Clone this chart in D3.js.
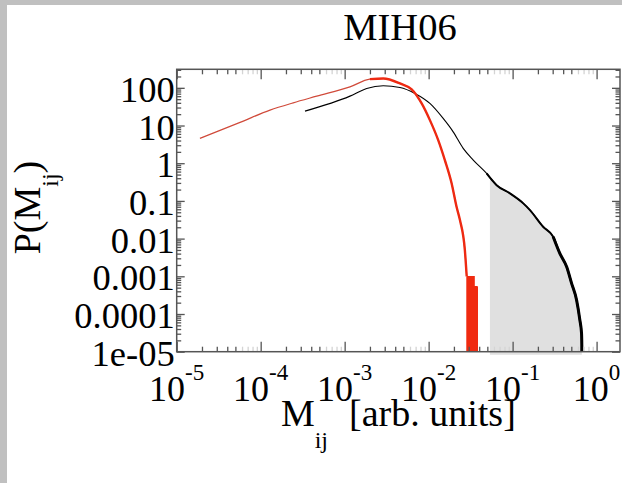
<!DOCTYPE html>
<html><head><meta charset="utf-8">
<script src="https://cdn.jsdelivr.net/npm/d3@7"></script>
<style>html,body{margin:0;padding:0;background:#c0c0c0;} svg{display:block} svg text{font-family:"Liberation Serif","Times New Roman","DejaVu Serif",serif;}</style>
</head><body><svg id="c" width="622" height="483"></svg>
<script>
// ---- data ----
const title = "MIH06";
const xTickValues = [1e-5, 1e-4, 1e-3, 1e-2, 1e-1, 1];
const xTickExponents = ["-5", "-4", "-3", "-2", "-1", "0"];
const yTickValues = [1e-5, 1e-4, 1e-3, 1e-2, 1e-1, 1, 10, 100];
const yTickLabels = ["1e-05", "0.0001", "0.001", "0.01", "0.1", "1", "10", "100"];

const blackX = [3.37e-4, 1.156e-3, 1.83e-3, 2.88e-3, 4.55e-3, 6.87e-3, 1.035e-2, 1.49e-2, 1.96e-2, 2.58e-2, 3.40e-2, 4.9e-2, 6.45e-2, 9.3e-2, 0.134, 0.161, 0.231, 0.304, 0.365, 0.44, 0.504, 0.578, 0.632, 0.662, 0.667, 0.668];
const blackY = [24.1, 60.2, 96.4, 113, 102, 71, 38.5, 15.4, 6.8, 2.47, 1.21, 0.536, 0.262, 0.158, 0.086, 0.057, 0.0206, 0.0112, 4.05e-3, 1.79e-3, 6.5e-4, 2.34e-4, 6.9e-5, 3.05e-5, 1.5e-5, 1e-7];

const redX = [1.89e-5, 5.68e-5, 1.29e-4, 2.44e-4, 4.65e-4, 1.156e-3, 2.0e-3, 2.88e-3, 4.55e-3, 6.28e-3, 8.26e-3, 1.035e-2, 1.30e-2, 1.56e-2, 1.88e-2, 2.15e-2, 2.36e-2, 2.70e-2, 2.84e-2];
const redY = [4.55, 12.1, 25.6, 40, 60, 106, 170, 177, 131, 90.7, 38.5, 13.9, 4.1, 1.21, 0.291, 0.0698, 0.031, 4.95e-3, 1.0e-3];

const redTailX = [0.0284, 0.0287, 0.0290, 0.0293, 0.0296, 0.0299, 0.0302, 0.0305, 0.0308, 0.0311, 0.0314, 0.0317, 0.0320, 0.0323, 0.0326, 0.0329, 0.0332, 0.0335, 0.0338, 0.0341, 0.0344, 0.0347, 0.0351, 0.0355, 0.0359, 0.0363, 0.0367, 0.0371, 0.0375, 0.0379];
const redTailY = [9.7e-4, 1e-7, 9.7e-4, 1e-7, 9.7e-4, 1e-7, 9.7e-4, 1e-7, 9.7e-4, 1e-7, 9.7e-4, 1e-7, 9.7e-4, 1e-7, 9.7e-4, 1e-7, 9.7e-4, 1e-7, 9.7e-4, 1e-7, 9.7e-4, 5.3e-4, 1e-7, 5.3e-4, 1e-7, 5.3e-4, 1e-7, 5.3e-4, 1e-7, 5.3e-4];

const shadeStartX = 0.0537;

// ---- layout ----
const L = 176.7, R = 620, T = 69.3, B = 351.7;
const svg = d3.select("#c");
const serif = "Liberation Serif, Times New Roman, DejaVu Serif, serif";
const axisColor = "#555";

svg.append("rect").attr("x", 7).attr("y", 5).attr("width", 615).attr("height", 478).attr("fill", "#fff");

const x = d3.scaleLog().domain([1e-5, 1.9]).range([L, R]);
const y = d3.scaleLog().domain([1e-5, 310]).range([B, T]);

svg.append("defs").append("clipPath").attr("id", "clip")
  .append("rect").attr("x", L).attr("y", T).attr("width", R - L).attr("height", B - T);

const black = blackX.map((v, i) => ({x: v, y: blackY[i]}));
const red = redX.map((v, i) => ({x: v, y: redY[i]}));
const redTail = redTailX.map((v, i) => ({x: v, y: redTailY[i]}));

// shaded region under black curve
const idx = black.findIndex(d => d.x > shadeStartX);
const a = black[idx - 1], b = black[idx];
const t = (Math.log(shadeStartX) - Math.log(a.x)) / (Math.log(b.x) - Math.log(a.x));
const startY = Math.exp(Math.log(a.y) + t * (Math.log(b.y) - Math.log(a.y)));
const shade = [{x: shadeStartX, y: startY}].concat(black.slice(idx).filter(d => d.y >= 1e-5));
const last = shade[shade.length - 1];
shade.push({x: last.x, y: 1e-5});
svg.append("path")
  .attr("fill", "#e0e0e0")
  .attr("d", d3.area().curve(d3.curveMonotoneX).x(d => x(d.x)).y0(B + 3).y1(d => y(d.y))(shade));

const line = d3.line().curve(d3.curveMonotoneX).x(d => x(d.x)).y(d => y(Math.max(d.y, 1e-7)));
const plot = svg.append("g").attr("clip-path", "url(#clip)");

plot.append("path").attr("d", line(black)).attr("fill", "none").attr("stroke", "#000").attr("stroke-width", 1.1);
plot.append("path").attr("d", line(black.filter(d => d.x >= 0.04))).attr("fill", "none").attr("stroke", "#000").attr("stroke-width", 2);
plot.append("path").attr("d", line(black.filter(d => d.x >= 0.3))).attr("fill", "none").attr("stroke", "#000").attr("stroke-width", 3);

plot.append("path").attr("d", line(red)).attr("fill", "none").attr("stroke", "#d04a3a").attr("stroke-width", 1.2);
plot.append("path").attr("d", line(red.filter(d => d.x >= 2.0e-3))).attr("fill", "none").attr("stroke", "#ee2a12").attr("stroke-width", 2.4);
plot.append("path").attr("d", d3.line().curve(d3.curveStepAfter).x(d => x(d.x)).y(d => y(Math.max(d.y, 1e-7)))(redTail))
  .attr("fill", "none").attr("stroke", "#f02a10").attr("stroke-width", 1.6);

// ---- axes ----
function minorTicks(domain) {
  const out = [];
  for (let e = -6; e <= 3; e++) for (let m = 2; m <= 9; m++) {
    const v = m * Math.pow(10, e);
    if (v > domain[0] && v < domain[1]) out.push(v);
  }
  return out;
}
const mant = v => Math.round(v / Math.pow(10, Math.floor(Math.log10(v) + 1e-9)));
const xMinor = minorTicks(x.domain());
const xMinorDark = xMinor.filter(v => mant(v) <= 5);
const xMinorLight = xMinor.filter(v => mant(v) > 5);
const yMinor = minorTicks(y.domain());

function styleAxis(g, color) {
  g.select(".domain").remove();
  g.selectAll("text").remove();
  g.selectAll("line").attr("stroke", color || axisColor).attr("stroke-width", 1.3);
}
// bottom
svg.append("g").attr("transform", `translate(0,${B})`).call(d3.axisBottom(x).tickValues(xTickValues).tickSize(-10)).call(g => styleAxis(g));
svg.append("g").attr("transform", `translate(0,${B})`).call(d3.axisBottom(x).tickValues(xMinorDark).tickSize(-5)).call(g => styleAxis(g));
svg.append("g").attr("transform", `translate(0,${B})`).call(d3.axisBottom(x).tickValues(xMinorLight).tickSize(-5)).call(g => styleAxis(g, "#d4d4d4"));
// top
svg.append("g").attr("transform", `translate(0,${T})`).call(d3.axisTop(x).tickValues(xTickValues).tickSize(-10)).call(g => styleAxis(g));
svg.append("g").attr("transform", `translate(0,${T})`).call(d3.axisTop(x).tickValues(xMinorDark).tickSize(-5)).call(g => styleAxis(g));
svg.append("g").attr("transform", `translate(0,${T})`).call(d3.axisTop(x).tickValues(xMinorLight).tickSize(-5)).call(g => styleAxis(g, "#d4d4d4"));
// left
svg.append("g").attr("transform", `translate(${L},0)`).call(d3.axisLeft(y).tickValues(yTickValues).tickSize(-8)).call(g => styleAxis(g));
svg.append("g").attr("transform", `translate(${L},0)`).call(d3.axisLeft(y).tickValues(yMinor).tickSize(-4.5)).call(g => styleAxis(g));
// right
svg.append("g").attr("transform", `translate(${R},0)`).call(d3.axisRight(y).tickValues(yTickValues).tickSize(-8)).call(g => styleAxis(g));
svg.append("g").attr("transform", `translate(${R},0)`).call(d3.axisRight(y).tickValues(yMinor).tickSize(-4.5)).call(g => styleAxis(g));

svg.append("rect").attr("x", L).attr("y", T).attr("width", R - L).attr("height", B - T)
  .attr("fill", "none").attr("stroke", axisColor).attr("stroke-width", 1.5);

// tick labels
svg.append("g").selectAll("text").data(yTickValues).join("text")
  .attr("x", L - 2).attr("y", d => y(d) + 14)
  .attr("text-anchor", "end").style("font-family", serif).attr("font-size", 36.5).attr("fill", "#000")
  .text((d, i) => yTickLabels[i]);

const xl = svg.append("g").selectAll("text").data(xTickValues).join("text")
  .attr("x", d => x(d)).attr("y", 401)
  .attr("text-anchor", "middle").style("font-family", serif).attr("font-size", 36).attr("fill", "#000");
xl.append("tspan").text("10");
xl.append("tspan").attr("font-size", 23).attr("dy", -21).text((d, i) => xTickExponents[i]);

// titles
svg.append("text").attr("x", 400).attr("y", 39.5).attr("text-anchor", "middle")
  .style("font-family", serif).attr("font-size", 38.5).attr("fill", "#000").text(title);

const xt = svg.append("text").attr("x", (L + R) / 2).attr("y", 426).attr("text-anchor", "middle")
  .style("font-family", serif).attr("font-size", 38).attr("fill", "#000");
xt.append("tspan").text("M");
xt.append("tspan").attr("font-size", 24).attr("dy", 22).text("ij");
xt.append("tspan").attr("dy", -22).attr("dx", 21).text("[arb. units]");

const yt = svg.append("text").attr("transform", `translate(40,${(T + B) / 2 - 3}) rotate(-90)`).attr("text-anchor", "middle")
  .style("font-family", serif).attr("font-size", 38).attr("fill", "#000");
yt.append("tspan").text("P(M");
yt.append("tspan").attr("font-size", 24).attr("dy", 18).text("ij");
yt.append("tspan").attr("dy", -18).text(")");
</script>
</body></html>
